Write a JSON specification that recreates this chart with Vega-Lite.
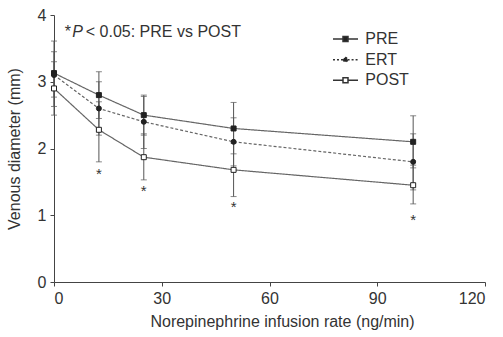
{
  "$schema": "https://vega.github.io/schema/vega-lite/v6.json",
  "width": 431,
  "height": 267,
  "autosize": {"type": "none"},
  "padding": {"left": 54, "top": 15, "right": 18, "bottom": 55},
  "background": "white",
  "config": {
    "view": {"stroke": null},
    "font": "Liberation Sans",
    "axis": {
      "grid": false,
      "domainColor": "#444",
      "tickColor": "#444",
      "tickSize": 4,
      "labelColor": "#333",
      "titleColor": "#333",
      "labelFontSize": 16,
      "titleFontSize": 16,
      "titleFontWeight": "normal"
    },
    "legend": {
      "title": null,
      "orient": "none",
      "legendX": 282,
      "legendY": 14.6,
      "padding": 0,
      "symbolSize": 278,
      "labelFontSize": 16,
      "labelColor": "#333",
      "labelOffset": 10.3,
      "rowPadding": 2.6
    }
  },
  "datasets": {
    "d": [
      {"rate": 0, "group": "PRE", "mean": 3.13, "lo": 2.63, "hi": 3.61},
      {"rate": 0, "group": "ERT", "mean": 3.1, "lo": 2.77, "hi": 3.45},
      {"rate": 0, "group": "POST", "mean": 2.9, "lo": 2.5, "hi": 3.3},
      {"rate": 12.5, "group": "PRE", "mean": 2.8, "lo": 2.45, "hi": 3.15},
      {"rate": 12.5, "group": "ERT", "mean": 2.6, "lo": 2.2, "hi": 3.0},
      {"rate": 12.5, "group": "POST", "mean": 2.28, "lo": 1.8, "hi": 2.7, "star": 1.663},
      {"rate": 25, "group": "PRE", "mean": 2.5, "lo": 2.2, "hi": 2.8},
      {"rate": 25, "group": "ERT", "mean": 2.4, "lo": 2.0, "hi": 2.78},
      {"rate": 25, "group": "POST", "mean": 1.87, "lo": 1.53, "hi": 2.22, "star": 1.408},
      {"rate": 50, "group": "PRE", "mean": 2.3, "lo": 1.92, "hi": 2.69},
      {"rate": 50, "group": "ERT", "mean": 2.1, "lo": 1.74, "hi": 2.46},
      {"rate": 50, "group": "POST", "mean": 1.68, "lo": 1.28, "hi": 2.08, "star": 1.169},
      {"rate": 100, "group": "PRE", "mean": 2.1, "lo": 1.71, "hi": 2.49},
      {"rate": 100, "group": "ERT", "mean": 1.8, "lo": 1.38, "hi": 2.22},
      {"rate": 100, "group": "POST", "mean": 1.45, "lo": 1.17, "hi": 1.75, "star": 0.974}
    ]
  },
  "data": {"name": "d"},
  "layer": [
    {
      "mark": {"type": "errorbar", "color": "#555", "ticks": {"size": 6, "color": "#555"}, "rule": {"color": "#555", "strokeWidth": 1}},
      "encoding": {
        "x": {"field": "rate", "type": "quantitative", "scale": {"domain": [0, 120], "nice": false},
              "axis": {"values": [0, 30, 60, 90, 120], "format": "d", "title": "Norepinephrine infusion rate (ng/min)", "titleX": 228, "labelPadding": 4, "titlePadding": 7}},
        "y": {"field": "lo", "type": "quantitative", "scale": {"domain": [0, 4], "nice": false},
              "axis": {"values": [0, 1, 2, 3, 4], "format": "d", "title": "Venous diameter (mm)", "labelPadding": 4, "titlePadding": 15}},
        "y2": {"field": "hi"}
      }
    },
    {
      "mark": {"type": "line", "color": "#666", "strokeWidth": 1.2},
      "encoding": {
        "x": {"field": "rate", "type": "quantitative"},
        "y": {"field": "mean", "type": "quantitative"},
        "detail": {"field": "group"},
        "strokeDash": {"field": "group", "type": "nominal", "legend": null,
                       "scale": {"domain": ["PRE", "ERT", "POST"], "range": [[1, 0], [3, 2], [1, 0]]}}
      }
    },
    {
      "mark": {"type": "point", "filled": true, "stroke": "#222", "strokeWidth": 1, "size": 25, "opacity": 1},
      "encoding": {
        "x": {"field": "rate", "type": "quantitative"},
        "y": {"field": "mean", "type": "quantitative"},
        "shape": {"field": "group", "type": "nominal", "legend": null,
                  "scale": {"domain": ["PRE", "ERT", "POST"], "range": ["square", "circle", "square"]}},
        "fill": {"field": "group", "type": "nominal", "legend": null,
                 "scale": {"domain": ["PRE", "ERT", "POST"], "range": ["#222", "#222", "white"]}}
      }
    },
    {
      "transform": [{"filter": "isValid(datum.star)"}],
      "mark": {"type": "text", "text": "*", "fontSize": 15, "color": "#333", "baseline": "alphabetic", "dy": 8},
      "encoding": {
        "x": {"field": "rate", "type": "quantitative"},
        "y": {"field": "star", "type": "quantitative"}
      }
    },
    {
      "data": {"values": [{}]},
      "mark": {"type": "text", "text": "*", "fontSize": 16, "color": "#333", "align": "left", "baseline": "alphabetic"},
      "encoding": {"x": {"datum": 3, "type": "quantitative"}, "y": {"datum": 3.675, "type": "quantitative"}}
    },
    {
      "data": {"values": [{}]},
      "mark": {"type": "text", "text": "P", "fontSize": 16, "fontStyle": "italic", "color": "#333", "align": "left", "baseline": "alphabetic", "dx": 7.5},
      "encoding": {"x": {"datum": 3, "type": "quantitative"}, "y": {"datum": 3.675, "type": "quantitative"}}
    },
    {
      "data": {"values": [{}]},
      "mark": {"type": "text", "text": "< 0.05: PRE vs POST", "fontSize": 16, "color": "#333", "align": "left", "baseline": "alphabetic", "dx": 21},
      "encoding": {"x": {"datum": 3, "type": "quantitative"}, "y": {"datum": 3.675, "type": "quantitative"}}
    },
    {
      "transform": [{"filter": "datum.rate < 0"}],
      "mark": {"type": "point", "filled": true, "stroke": "#333", "strokeWidth": 1, "opacity": 1},
      "encoding": {
        "shape": {"field": "group", "type": "nominal",
                  "scale": {"domain": ["PRE", "ERT", "POST"], "range": [
                    "M-1.5,0H-0.3M0.3,0H1.5M-0.3,-0.3H0.3V0.3H-0.3Z",
                    "M-1.5,0H-0.25M0.25,0H1.5M-0.25,0A0.25,0.25,0,1,0,0.25,0A0.25,0.25,0,1,0,-0.25,0Z",
                    "M-1.5,0H-0.3M0.3,0H1.5M-0.3,-0.3H0.3V0.3H-0.3Z"]}},
        "fill": {"field": "group", "type": "nominal",
                 "scale": {"domain": ["PRE", "ERT", "POST"], "range": ["#222", "#222", "white"]}},
        "strokeDash": {"field": "group", "type": "nominal",
                       "scale": {"domain": ["PRE", "ERT", "POST"], "range": [[1, 0], [2, 2], [1, 0]]}}
      }
    }
  ],
  "resolve": {"scale": {"shape": "independent", "fill": "independent", "strokeDash": "independent"}}
}
